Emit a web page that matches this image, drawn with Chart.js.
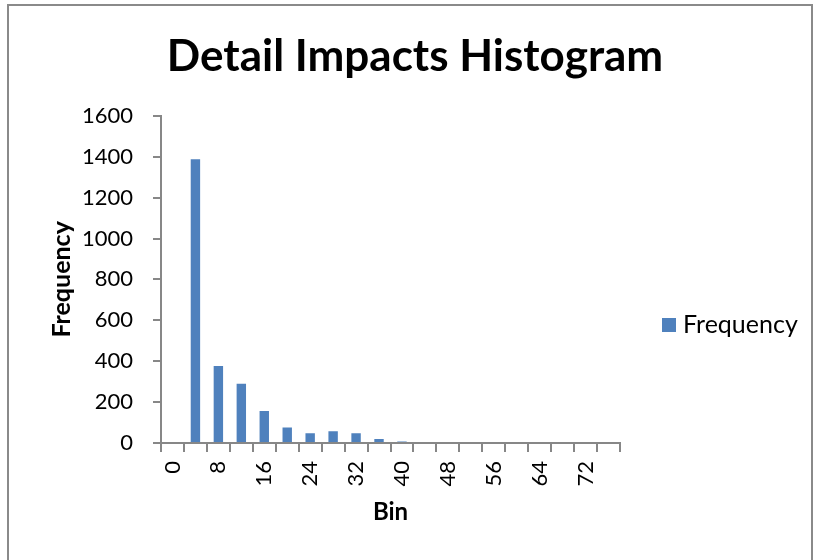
<!DOCTYPE html>
<html>
<head>
<meta charset="utf-8">
<script src="https://cdn.jsdelivr.net/npm/chart.js@4/dist/chart.umd.min.js"></script>
<style>
  html, body { margin: 0; padding: 0; background: #ffffff; overflow: hidden; }
  #frame {
    position: absolute; left: 7px; top: 4px; width: 806px; height: 600px;
    border: 2px solid #8a8a8a; box-sizing: border-box;
  }
  #wrap { position: absolute; left: 0; top: 0; width: 815px; height: 560px; }
</style>
</head>
<body>
<div id="frame"></div>
<div id="wrap"><canvas id="chart" width="815" height="560"></canvas></div>
<script>
// Histogram bins (lower edge of each bin) and counts per bin
const bins = ['0', '4', '8', '12', '16', '20', '24', '28', '32', '36',
              '40', '44', '48', '52', '56', '60', '64', '68', '72', '76'];
const frequency = [0, 1388, 376, 290, 156, 76, 48, 58, 48, 20,
                   7, 0, 0, 0, 0, 0, 0, 0, 0, 0];
const yTicks = [0, 200, 400, 600, 800, 1000, 1200, 1400, 1600];

const chartTitle = 'Detail Impacts Histogram';
const seriesName = 'Frequency';
const xTitle = 'Bin';
const yTitle = 'Frequency';

const BAR = '#4F81BD';
const AXIS = '#878787';
const FONT = 'Lato, "Liberation Sans", sans-serif';

// Legend on the right side, drawn beside the plot
const sideLegend = {
  id: 'sideLegend',
  afterDraw(chart) {
    const ctx = chart.ctx;
    const ds = chart.data.datasets[0];
    ctx.save();
    ctx.fillStyle = ds.backgroundColor;
    ctx.fillRect(662, 318, 14, 14);
    ctx.fillStyle = '#000000';
    ctx.font = '25px ' + FONT;
    ctx.textBaseline = 'middle';
    ctx.textAlign = 'left';
    ctx.fillText(ds.label, 683, 325);
    ctx.restore();
  }
};

new Chart(document.getElementById('chart'), {
  type: 'bar',
  data: {
    labels: bins,
    datasets: [{
      label: seriesName,
      data: frequency,
      backgroundColor: BAR,
      borderWidth: 0,
      categoryPercentage: 1.0,
      barPercentage: 0.41
    }]
  },
  options: {
    responsive: false,
    animation: false,
    layout: { padding: { left: 15, right: 0, top: 0, bottom: 0 } },
    plugins: {
      legend: { display: false },
      tooltip: { enabled: false },
      title: {
        display: true,
        text: chartTitle,
        color: '#000000',
        font: { family: FONT, size: 44, weight: 'bold', lineHeight: 1.2 },
        padding: { top: 30, bottom: 33 }
      }
    },
    scales: {
      x: {
        grid: {
          display: true, drawOnChartArea: false, drawTicks: true,
          tickLength: 9, color: AXIS, lineWidth: 2, offset: true
        },
        border: { display: true, color: AXIS, width: 2 },
        ticks: {
          autoSkip: false, minRotation: 90, maxRotation: 90, padding: 9,
          color: '#000000', font: { family: FONT, size: 22 },
          callback: function (value, index) {
            return index % 2 === 0 ? this.getLabelForValue(value) : '';
          }
        },
        title: {
          display: true, text: xTitle, color: '#000000',
          font: { family: FONT, size: 24, weight: 'bold', lineHeight: 1.2 },
          padding: { top: 0, bottom: 33 }
        },
        afterFit(scale) { scale.height = 117; }
      },
      y: {
        min: 0, max: 1600,
        afterBuildTicks(scale) { scale.ticks = yTicks.map(v => ({ value: v })); },
        grid: {
          display: true, drawOnChartArea: false, drawTicks: true,
          tickLength: 8, color: AXIS, lineWidth: 2
        },
        border: { display: true, color: AXIS, width: 2 },
        ticks: {
          padding: 20, color: '#000000',
          font: { family: FONT, size: 22 },
          callback: (value) => String(value)
        },
        title: {
          display: true, text: yTitle, color: '#000000',
          font: { family: FONT, size: 25, weight: 'bold', lineHeight: 1.2 },
          padding: { top: 32, bottom: 0 }
        },
        afterFit(scale) { scale.width = 146; }
      },
      side: {
        type: 'linear', position: 'right', display: true,
        grid: { display: false }, border: { display: false },
        ticks: { display: false },
        afterFit(scale) { scale.width = 195; }
      }
    }
  },
  plugins: [sideLegend]
});
</script>
</body>
</html>
